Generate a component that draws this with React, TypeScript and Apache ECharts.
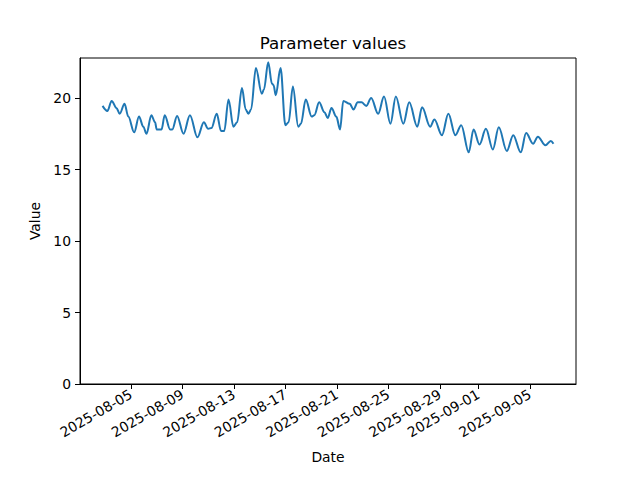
import React, { useEffect, useRef } from "react";
import * as echarts from "echarts";

const times: string[] = [
  "2025-08-02 19:00", "2025-08-03 04:00", "2025-08-03 12:00", "2025-08-03 21:00",
  "2025-08-04 03:00", "2025-08-04 12:00", "2025-08-04 19:00", "2025-08-05 06:00",
  "2025-08-05 15:00", "2025-08-05 23:00", "2025-08-06 05:00", "2025-08-06 14:00",
  "2025-08-06 21:00", "2025-08-07 00:00", "2025-08-07 09:00", "2025-08-07 15:00",
  "2025-08-08 01:00", "2025-08-08 05:00", "2025-08-08 14:00", "2025-08-09 02:00",
  "2025-08-09 14:00", "2025-08-10 04:00", "2025-08-10 16:00", "2025-08-11 00:00",
  "2025-08-11 06:00", "2025-08-11 16:00", "2025-08-12 00:00", "2025-08-12 06:00",
  "2025-08-12 14:00", "2025-08-12 23:00", "2025-08-13 06:00", "2025-08-13 15:00",
  "2025-08-13 22:00", "2025-08-14 03:00", "2025-08-14 08:00", "2025-08-14 17:00",
  "2025-08-15 04:00", "2025-08-15 08:00", "2025-08-15 16:00", "2025-08-15 23:00",
  "2025-08-16 02:00", "2025-08-16 06:00", "2025-08-16 15:00", "2025-08-17 00:00",
  "2025-08-17 06:00", "2025-08-17 14:00", "2025-08-18 00:00", "2025-08-18 05:00",
  "2025-08-18 14:00", "2025-08-19 01:00", "2025-08-19 06:00", "2025-08-19 15:00",
  "2025-08-20 01:00", "2025-08-20 07:00", "2025-08-20 14:00", "2025-08-20 23:00",
  "2025-08-21 06:00", "2025-08-21 12:00", "2025-08-22 00:00", "2025-08-22 07:00",
  "2025-08-22 15:00", "2025-08-22 22:00", "2025-08-23 07:00", "2025-08-23 16:00",
  "2025-08-24 05:00", "2025-08-24 16:00", "2025-08-25 04:00", "2025-08-25 14:00",
  "2025-08-26 04:00", "2025-08-26 15:00", "2025-08-27 06:00", "2025-08-27 15:00",
  "2025-08-28 06:00", "2025-08-28 14:00", "2025-08-29 04:00", "2025-08-29 16:00",
  "2025-08-30 05:00", "2025-08-30 16:00", "2025-08-31 06:00", "2025-08-31 15:00",
  "2025-09-01 02:00", "2025-09-01 14:00", "2025-09-02 03:00", "2025-09-02 14:00",
  "2025-09-03 05:00", "2025-09-03 17:00", "2025-09-04 07:00", "2025-09-04 17:00",
  "2025-09-05 06:00", "2025-09-05 15:00", "2025-09-06 05:00", "2025-09-06 15:00",
  "2025-09-06 20:00",
];

const values: number[] = [
  19.45, 19.1, 19.8, 19.3,
  18.9, 19.6, 18.7, 17.6,
  18.7, 18.0, 17.5, 18.8,
  18.3, 17.8, 17.8, 18.8,
  17.8, 17.8, 18.75, 17.5,
  18.8, 17.25, 18.3, 17.85,
  17.9, 18.9, 17.7, 17.7,
  19.9, 18.0, 18.3, 20.7,
  19.2, 18.9, 19.2, 22.1,
  20.3, 20.6, 22.5, 21.0,
  20.9, 20.2, 22.1, 18.1,
  18.3, 20.8, 18.0, 18.2,
  19.9, 18.7, 18.8, 19.7,
  19.0, 18.6, 19.3, 18.7,
  17.8, 19.8, 19.6, 19.2,
  19.7, 19.7, 19.45, 20.0,
  18.9, 20.1, 18.2, 20.1,
  18.2, 19.7, 18.0, 19.35,
  18.0, 18.5, 17.4, 18.9,
  17.4, 18.1, 16.2, 17.8,
  16.75, 17.85, 16.4, 17.95,
  16.3, 17.4, 16.2, 17.55,
  16.8, 17.3, 16.7, 17.0,
  16.8,
];

const xTickDates: string[] = [
  "2025-08-05", "2025-08-09", "2025-08-13", "2025-08-17", "2025-08-21",
  "2025-08-25", "2025-08-29", "2025-09-01", "2025-09-05",
];

const yTicks: number[] = [0, 5, 10, 15, 20];

const toMs = (s: string): number => {
  const [d, t] = s.split(" ");
  const [y, m, dd] = d.split("-").map(Number);
  const [h, mi] = (t || "00:00").split(":").map(Number);
  return Date.UTC(y, m - 1, dd, h, mi);
};

const fmt = (v: number): string => new Date(v).toISOString().slice(0, 10);

export default function App() {
  const ref = useRef<HTMLDivElement>(null);
  useEffect(() => {
    if (!ref.current) return;
    const chart = echarts.init(ref.current, null, { renderer: "svg" });
    const xs = times.map(toMs);
    const x0 = xs[0];
    const x1 = xs[xs.length - 1];
    const pad = (x1 - x0) * 0.05;
    const font = "DejaVu Sans";
    const xTickMs = xTickDates.map(toMs);
    chart.setOption({
      animation: false,
      backgroundColor: "#ffffff",
      textStyle: { fontFamily: font },
      title: {
        text: "Parameter values",
        left: 328,
        textAlign: "center",
        top: 29,
        textStyle: { fontFamily: font, fontSize: 16.7, fontWeight: "normal", color: "#000" },
      },
      grid: {
        left: 80,
        right: 64,
        top: 58,
        bottom: 96,
        show: true,
        borderColor: "#000",
        borderWidth: 1,
        backgroundColor: "transparent",
      },
      xAxis: {
        type: "value",
        min: x0 - pad,
        max: x1 + pad,
        scale: true,
        name: "Date",
        nameLocation: "middle",
        nameGap: 66,
        nameTextStyle: { fontFamily: font, fontSize: 13.9, color: "#000" },
        axisLine: { show: true, onZero: false, lineStyle: { color: "#000", width: 1 } },
        axisTick: {
          show: true,
          length: 5,
          lineStyle: { color: "#000", width: 1 },
          customValues: xTickMs,
        },
        axisLabel: {
          rotate: 30,
          margin: 9,
          fontFamily: font,
          fontSize: 13.9,
          color: "#000",
          customValues: xTickMs,
          formatter: (v: number) => fmt(v),
          hideOverlap: false,
        },
        splitLine: { show: false },
      },
      yAxis: {
        type: "value",
        min: 0,
        max: 22.8,
        name: "Value",
        nameLocation: "middle",
        nameRotate: 90,
        nameGap: 33,
        nameTextStyle: { fontFamily: font, fontSize: 13.9, color: "#000" },
        axisLine: { show: true, lineStyle: { color: "#000", width: 1 } },
        axisTick: {
          show: true,
          length: 5,
          lineStyle: { color: "#000", width: 1 },
          customValues: yTicks,
        },
        axisLabel: {
          margin: 9,
          fontFamily: font,
          fontSize: 13.9,
          color: "#000",
          customValues: yTicks,
        },
        splitLine: { show: false },
      },
      series: [
        {
          type: "line",
          data: xs.map((x, i) => [x, values[i]]),
          showSymbol: false,
          smooth: 0.35,
          smoothMonotone: "x",
          lineStyle: { color: "#1f77b4", width: 2 },
          itemStyle: { color: "#1f77b4" },
        },
      ],
    });
    return () => chart.dispose();
  }, []);
  return (
    <div
      ref={ref}
      style={{ position: "fixed", left: 0, top: 0, width: 640, height: 480 }}
    />
  );
}
